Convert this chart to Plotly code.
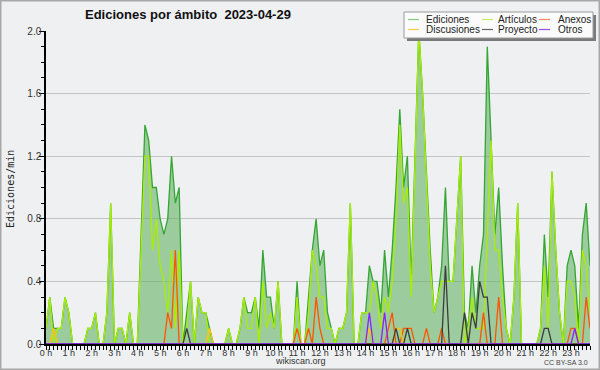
import plotly.graph_objects as go

# ---------------- data (10-minute bins, edits per minute) ----------------
HOUR_LABELS = ["0 h", "1 h", "2 h", "3 h", "4 h", "5 h", "6 h", "7 h", "8 h", "9 h",
               "10 h", "11 h", "12 h", "13 h", "14 h", "15 h", "16 h", "17 h", "18 h",
               "19 h", "20 h", "21 h", "22 h", "23 h"]
Y_TICKS = [0.0, 0.4, 0.8, 1.2, 1.6, 2.0]
Y_TICK_LABELS = ["0.0", "0.4", "0.8", "1.2", "1.6", "2.0"]

ediciones = [
    0.1, 0.3, 0.1, 0.1, 0.1, 0.3, 0.2, 0, 0, 0, 0, 0.1,
    0.1, 0.2, 0, 0, 0.2, 0.9, 0, 0.1, 0.1, 0, 0.2, 0,
    0, 0.7, 1.4, 1.3, 1.0, 1.0, 0.8, 0.7, 0.8, 1.2, 0.9, 1.0,
    0, 0.2, 0.4, 0, 0.3, 0.2, 0.2, 0.1, 0, 0, 0, 0,
    0.1, 0, 0, 0.1, 0.3, 0.2, 0.2, 0.3, 0.1, 0.6, 0.3, 0.3,
    0.1, 0.4, 0, 0, 0, 0, 0.4, 0, 0, 0.3, 0.6, 0.8,
    0.5, 0.6, 0.2, 0.1, 0, 0.1, 0.1, 0.2, 0.9, 0, 0, 0.2,
    0.2, 0.5, 0.4, 0.4, 0.2, 0.6, 0.3, 0.6, 1.0, 1.5, 1.0, 1.2,
    0.4, 1.2, 2.0, 1.6, 1.1, 0.6, 0.2, 0.3, 0.5, 1.0, 0.4, 0.4,
    0.8, 1.2, 0.2, 0.1, 0.5, 0.2, 0.5, 0.7, 1.9, 1.3, 0.7, 1.0,
    0.5, 0.1, 0, 0.3, 0.9, 0, 0, 0, 0, 0, 0.1, 0.7,
    0.3, 1.1, 0.6, 0.2, 0, 0.5, 0.6, 0.5, 0.1, 0.7, 0.9, 0.5,
]
articulos = [
    0.1, 0.3, 0, 0.1, 0.1, 0.3, 0.2, 0, 0, 0, 0, 0.1,
    0.1, 0.2, 0, 0, 0.2, 0.9, 0, 0.1, 0.1, 0, 0.2, 0,
    0, 0.6, 1.2, 1.2, 0.6, 0.8, 0.5, 0.4, 0.2, 0.6, 0.1, 0.6,
    0, 0.1, 0.4, 0, 0.3, 0.2, 0.2, 0, 0, 0, 0, 0,
    0.1, 0, 0, 0.1, 0.3, 0.1, 0.1, 0.3, 0, 0.4, 0.1, 0.2,
    0.1, 0.4, 0, 0, 0, 0, 0.3, 0, 0, 0.2, 0.6, 0.5,
    0.3, 0.3, 0.1, 0.1, 0, 0.1, 0.1, 0.2, 0.9, 0, 0, 0.2,
    0.2, 0.2, 0.4, 0.3, 0.1, 0.3, 0.2, 0.4, 0.8, 1.4, 0.9, 1.0,
    0.3, 1.2, 2.0, 1.6, 1.0, 0.5, 0.2, 0.3, 0.4, 0.4, 0.4, 0.4,
    0.8, 1.2, 0, 0.1, 0.3, 0.1, 0.1, 0.1, 0.7, 1.3, 0.6, 0.6,
    0.3, 0.1, 0, 0.3, 0.9, 0, 0, 0, 0, 0, 0.1, 0.5,
    0.1, 1.1, 0.6, 0.2, 0, 0.4, 0.4, 0.3, 0, 0.6, 0.5, 0.2,
]
anexos = [
    0, 0, 0, 0, 0, 0, 0, 0, 0, 0, 0, 0,
    0, 0, 0, 0, 0, 0, 0, 0, 0, 0, 0, 0,
    0, 0, 0, 0, 0, 0, 0, 0, 0.2, 0.1, 0.6, 0,
    0, 0, 0, 0, 0, 0, 0, 0, 0, 0, 0, 0,
    0, 0, 0, 0, 0, 0, 0, 0, 0, 0, 0, 0,
    0, 0, 0, 0, 0, 0, 0.1, 0, 0, 0.1, 0, 0.3,
    0.1, 0, 0, 0, 0, 0, 0, 0, 0, 0, 0, 0,
    0, 0, 0, 0, 0, 0, 0.1, 0.2, 0, 0, 0.1, 0.1,
    0.1, 0, 0, 0, 0.1, 0, 0, 0, 0.1, 0, 0, 0,
    0, 0, 0, 0, 0, 0, 0, 0.2, 0, 0, 0, 0.3,
    0, 0, 0, 0, 0, 0, 0, 0, 0, 0, 0, 0,
    0, 0, 0, 0, 0, 0, 0.1, 0.1, 0, 0, 0.3, 0.1,
]
discusiones = [
    0, 0, 0.1, 0, 0, 0, 0, 0, 0, 0, 0, 0,
    0, 0, 0, 0, 0, 0, 0, 0, 0, 0, 0, 0,
    0, 0, 0, 0, 0, 0, 0, 0, 0, 0, 0, 0,
    0, 0, 0, 0, 0, 0, 0, 0.1, 0, 0, 0, 0,
    0, 0, 0, 0, 0, 0, 0, 0, 0, 0, 0, 0,
    0, 0, 0, 0, 0, 0, 0, 0, 0, 0, 0, 0,
    0, 0, 0, 0, 0, 0, 0, 0, 0, 0, 0, 0,
    0, 0.1, 0, 0, 0, 0, 0, 0, 0.1, 0.1, 0, 0,
    0, 0, 0, 0, 0, 0, 0, 0, 0, 0, 0, 0,
    0, 0, 0, 0, 0, 0, 0, 0, 0, 0, 0, 0,
    0, 0, 0, 0, 0, 0, 0, 0, 0, 0, 0, 0,
    0, 0, 0, 0, 0, 0, 0, 0, 0, 0, 0, 0,
]
proyecto = [
    0, 0, 0, 0, 0, 0, 0, 0, 0, 0, 0, 0,
    0, 0, 0, 0, 0, 0, 0, 0, 0, 0, 0, 0,
    0, 0, 0, 0, 0, 0, 0, 0, 0, 0, 0, 0,
    0, 0.1, 0, 0, 0, 0, 0, 0, 0, 0, 0, 0,
    0, 0, 0, 0, 0, 0, 0, 0, 0, 0, 0, 0,
    0, 0, 0, 0, 0, 0, 0, 0, 0, 0, 0, 0,
    0, 0, 0, 0, 0, 0, 0, 0, 0, 0, 0, 0,
    0, 0, 0, 0, 0, 0, 0, 0, 0.1, 0, 0, 0.1,
    0, 0, 0, 0, 0, 0, 0, 0, 0, 0.5, 0, 0,
    0, 0, 0.2, 0, 0.2, 0.1, 0.4, 0.3, 0.3, 0, 0, 0,
    0, 0, 0, 0, 0, 0, 0, 0, 0, 0, 0, 0.1,
    0.1, 0, 0, 0, 0, 0, 0, 0, 0, 0, 0, 0,
]
otros = [
    0, 0, 0, 0, 0, 0, 0, 0, 0, 0, 0, 0,
    0, 0, 0, 0, 0, 0, 0, 0, 0, 0, 0, 0,
    0, 0, 0, 0, 0, 0, 0, 0, 0, 0, 0, 0,
    0, 0, 0, 0, 0, 0, 0, 0, 0, 0, 0, 0,
    0, 0, 0, 0, 0, 0, 0, 0, 0, 0, 0, 0,
    0, 0, 0, 0, 0, 0, 0, 0, 0, 0, 0, 0,
    0, 0, 0, 0, 0, 0, 0, 0, 0, 0, 0, 0,
    0, 0.2, 0, 0, 0, 0.2, 0, 0, 0, 0, 0, 0,
    0, 0, 0, 0, 0, 0, 0, 0, 0, 0, 0, 0,
    0, 0, 0, 0, 0, 0, 0, 0, 0, 0, 0, 0,
    0, 0, 0, 0, 0, 0, 0, 0, 0, 0, 0, 0,
    0, 0, 0, 0, 0, 0, 0, 0.1, 0, 0, 0, 0,
]

# time of each 10-minute bin, in hours
horas = [i / 6 for i in range(len(ediciones))]

# ---------------- figure ----------------
W, H = 600, 370
ML, MR, MT, MB = 46, 10, 31, 26
PW, PH = W - ML - MR, H - MT - MB


def px(xp):
    return (xp - ML) / PW


def py(yp):
    return (H - MB - yp) / PH


SERIES = [
    ("Ediciones", ediciones, "#33a633", "#7fcc7f"),
    ("Artículos", articulos, "#a8ee00", "#c6ee5e"),
    ("Anexos", anexos, "#ff5500", "#f58a55"),
    ("Discusiones", discusiones, "#ffc400", "#f9cc44"),
    ("Proyecto", proyecto, "#3c3c3c", "#666666"),
    ("Otros", otros, "#8a22ff", "#9a50f0"),
]

fig = go.Figure()
for k, (name, vals, col, _) in enumerate(SERIES):
    kw = {}
    if k == 0:
        kw = dict(fill="tozeroy", fillcolor="rgba(100,180,100,0.6)")
    fig.add_trace(go.Scatter(
        x=horas, y=vals, mode="lines", name=name,
        line=dict(color=col, width=1.3), showlegend=False, **kw))

fig.update_layout(
    width=W, height=H,
    margin=dict(l=ML, r=MR, t=MT, b=MB, pad=0),
    paper_bgcolor="#eff0f2", plot_bgcolor="#eff0f2",
    showlegend=False,
)

fig.update_xaxes(
    range=[0, horas[-1]], tickvals=list(range(len(HOUR_LABELS))), ticktext=HOUR_LABELS,
    ticks="outside", ticklen=4, tickwidth=1, tickcolor="black",
    showline=True, linecolor="black", linewidth=1.5,
    showgrid=False, zeroline=False,
    minor=dict(dtick=1 / 6, tick0=0, ticks="outside", ticklen=4, tickcolor="black",
               tickwidth=1, showgrid=False),
    tickfont=dict(family="Liberation Sans", size=9, color="#333"),
    ticklabelstandoff=-5,
)
fig.update_yaxes(
    range=[0, 2.0], tickvals=Y_TICKS, ticktext=Y_TICK_LABELS,
    ticks="outside", ticklen=5, tickwidth=1, tickcolor="black",
    showline=True, linecolor="black", linewidth=1.5,
    showgrid=True, gridcolor="#c4c4c4", gridwidth=1, zeroline=False,
    minor=dict(dtick=0.1, ticks="outside", ticklen=3, tickcolor="black",
               tickwidth=1, showgrid=False),
    tickfont=dict(family="Liberation Sans", size=10, color="#333"),
    ticklabelstandoff=-4,
)

shapes = []
annotations = []

# outer frame
shapes.append(dict(type="rect", xref="paper", yref="paper",
                   x0=px(0.75), x1=px(599.25), y0=py(369.25), y1=py(0.75),
                   line=dict(color="#a8a8a8", width=1.5), layer="above"))

# legend box (shadow + box)
shapes.append(dict(type="rect", xref="paper", yref="paper",
                   x0=px(407), x1=px(596), y0=py(41), y1=py(15),
                   fillcolor="#7a7a7a", line=dict(width=0), layer="above"))
shapes.append(dict(type="rect", xref="paper", yref="paper",
                   x0=px(404), x1=px(593), y0=py(38), y1=py(12),
                   fillcolor="#fbfbfb", line=dict(color="#9a9a9a", width=1), layer="above"))

# legend entries: column-major as in the reference (3 columns x 2 rows)
LEG_POS = {
    "Ediciones": (408, 424, 19.5), "Discusiones": (408, 424, 29.5),
    "Artículos": (482, 496, 19.5), "Proyecto": (482, 496, 29.5),
    "Anexos": (539, 556, 19.5), "Otros": (539, 556, 29.5),
}
for name, vals, col, lcol in SERIES:
    sx, tx, ry = LEG_POS[name]
    shapes.append(dict(type="line", xref="paper", yref="paper",
                       x0=px(sx), x1=px(sx + 11), y0=py(ry), y1=py(ry),
                       line=dict(color=lcol, width=1.2), layer="above"))
    annotations.append(dict(xref="paper", yref="paper", x=px(tx), y=py(ry),
                            text=name, showarrow=False, xanchor="left", yanchor="middle",
                            font=dict(family="Liberation Sans", size=10, color="#222")))

# title
annotations.append(dict(xref="paper", yref="paper", x=px(188), y=py(14),
                        text="Ediciones por ámbito\u00a0\u00a02023-04-29", showarrow=False,
                        xanchor="center", yanchor="middle",
                        font=dict(family="Liberation Sans", size=13, color="#111", weight="bold")))
# y axis title
annotations.append(dict(xref="paper", yref="paper", x=px(10), y=py(189),
                        text="Ediciones/min", showarrow=False, textangle=-90,
                        xanchor="center", yanchor="middle",
                        font=dict(family="DejaVu Sans Mono", size=10, color="#222")))
# footer
annotations.append(dict(xref="paper", yref="paper", x=px(300), y=py(361),
                        text="wikiscan.org", showarrow=False, xanchor="center", yanchor="middle",
                        font=dict(family="Liberation Sans", size=9, color="#333")))
annotations.append(dict(xref="paper", yref="paper", x=px(590), y=py(362),
                        text="CC BY-SA 3.0", showarrow=False, xanchor="right", yanchor="middle",
                        font=dict(family="Liberation Sans", size=7, color="#444")))

fig.update_layout(shapes=shapes, annotations=annotations)
fig.write_html(
    "out.html",
    config={"displayModeBar": False},
    post_script="document.body.style.margin='0';document.body.style.padding='0';"
                "document.body.style.overflow='hidden';",
)
